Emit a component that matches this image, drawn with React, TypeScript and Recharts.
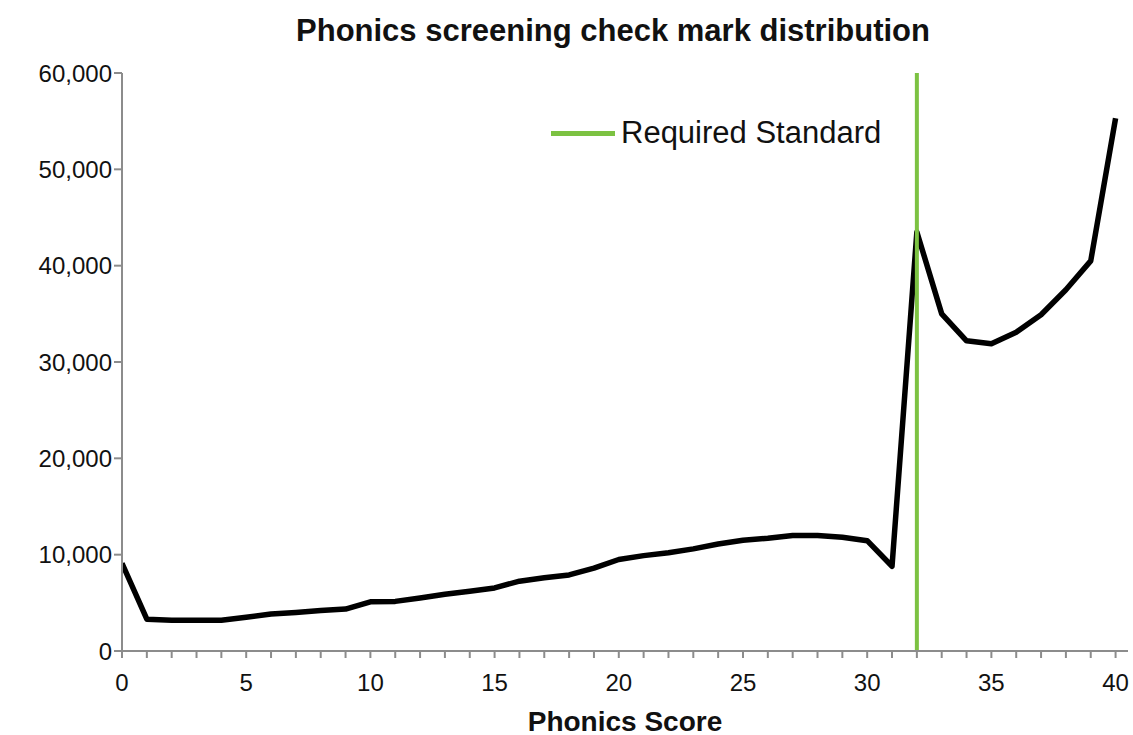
import React from 'react';
import { LineChart, Line, XAxis, YAxis, ReferenceLine } from 'recharts';

const scores: number[] = Array.from({ length: 41 }, (_, i) => i);
const pupils: number[] = [
  9100, 3300, 3200, 3200, 3200, 3500, 3850, 4000, 4200, 4350,
  5100, 5150, 5500, 5900, 6200, 6550, 7250, 7600, 7900, 8600,
  9500, 9900, 10200, 10600, 11100, 11500, 11700, 12000, 12000, 11800,
  11450, 8800, 43500, 35000, 32200, 31900, 33100, 34900, 37500, 40500,
  55300,
];
const yTicks: number[] = [0, 10000, 20000, 30000, 40000, 50000, 60000];
const xTicks: number[] = scores;
const requiredStandard = 32;
const title = 'Phonics screening check mark distribution';
const xLabel = 'Phonics Score';
const legendLabel = 'Required Standard';

const data = scores.map((s, i) => ({ score: s, pupils: pupils[i] }));

const FONT = '"Liberation Sans", Arial, sans-serif';
const AXIS = '#8c8c8c';
const GREEN = '#7cc242';

export default function App() {
  return (
    <div style={{ position: 'absolute', left: 0, top: 0, width: 1133, height: 735, background: '#fff', fontFamily: FONT }}>
      <div style={{ position: 'absolute', left: 0, width: 1226, top: 12, textAlign: 'center', fontSize: 31, fontWeight: 'bold', color: '#111', lineHeight: '38px' }}>
        {title}
      </div>
      <LineChart width={1133} height={735} data={data} margin={{ top: 73, right: 5, bottom: 0, left: 0 }}>
        <XAxis
          dataKey="score"
          type="number"
          domain={[0, 40.5]}
          ticks={xTicks}
          interval={0}
          tickFormatter={(v: number) => (v % 5 === 0 ? String(v) : '')}
          axisLine={{ stroke: AXIS, strokeWidth: 2 }}
          tickLine={{ stroke: AXIS, strokeWidth: 2 }}
          tickSize={7}
          tick={{ fill: '#111', fontSize: 24, fontFamily: FONT, dy: 14 }}
          height={84}
          allowDataOverflow
        />
        <XAxis xAxisId="top" orientation="top" dataKey="score" type="number" domain={[0, 40.5]} tick={false} tickLine={false} axisLine={{ stroke: AXIS, strokeWidth: 2 }} height={0} />
        <YAxis
          type="number"
          domain={[0, 60000]}
          ticks={yTicks}
          interval={0}
          tickFormatter={(v: number) => v.toLocaleString('en-US')}
          axisLine={{ stroke: AXIS, strokeWidth: 2 }}
          tickLine={{ stroke: AXIS, strokeWidth: 2 }}
          tickSize={8}
          tick={{ fill: '#111', fontSize: 24, fontFamily: FONT }}
          width={122}
        />
        <YAxis yAxisId="right" orientation="right" domain={[0, 60000]} tick={false} tickLine={false} axisLine={{ stroke: AXIS, strokeWidth: 2 }} width={0} />
        <Line type="linear" dataKey="pupils" stroke="#000" strokeWidth={5.5} dot={false} isAnimationActive={false} strokeLinejoin="round" />
        <ReferenceLine x={requiredStandard} stroke={GREEN} strokeWidth={4} />
      </LineChart>
      <div style={{ position: 'absolute', left: 551, top: 115, height: 36, display: 'flex', alignItems: 'center' }}>
        <div style={{ width: 64, height: 5, background: GREEN, marginRight: 6 }} />
        <span style={{ fontSize: 31, color: '#111', lineHeight: '36px' }}>{legendLabel}</span>
      </div>
      <div style={{ position: 'absolute', left: 0, width: 1250, top: 705, textAlign: 'center', fontSize: 28, fontWeight: 'bold', color: '#111', lineHeight: '34px' }}>
        {xLabel}
      </div>
    </div>
  );
}
